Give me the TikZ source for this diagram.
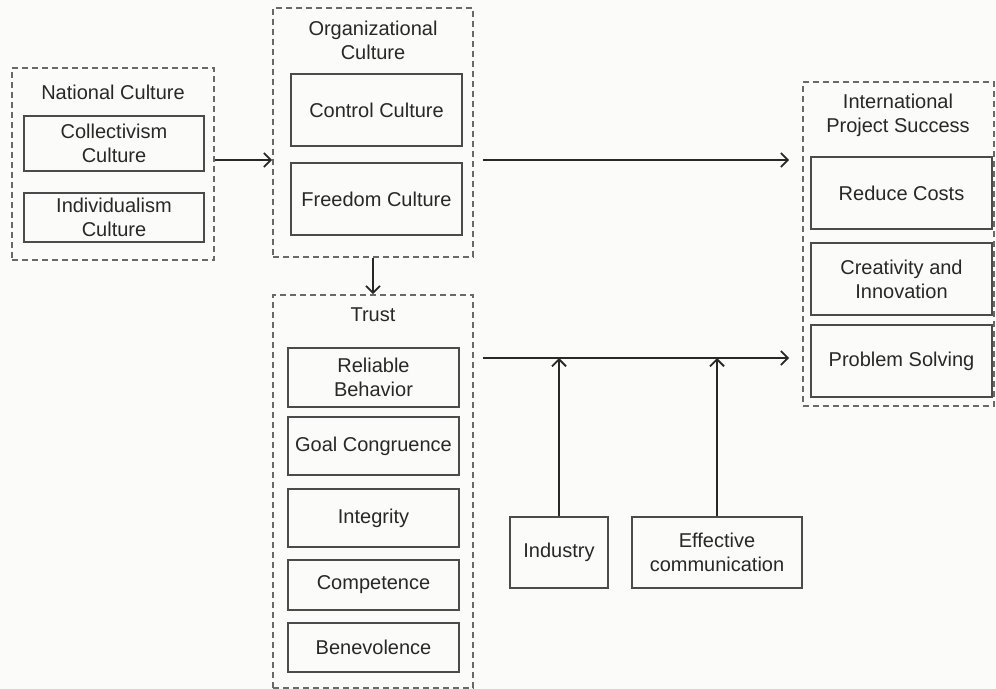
\documentclass[tikz,border=0pt]{standalone}
\usepackage{fontspec}
\setmainfont{Liberation Sans}
\usetikzlibrary{arrows.meta}
\definecolor{paper}{RGB}{251,251,249}
\definecolor{inkgray}{RGB}{40,40,40}
\definecolor{linegray}{RGB}{75,75,75}
\definecolor{dashgray}{RGB}{105,105,105}
\tikzset{
  groupbox/.style={draw=dashgray, dash pattern=on 3pt off 2pt, line width=0.8pt, inner sep=0pt},
  itembox/.style={draw=linegray, line width=0.9pt, align=center, inner sep=0pt, text=inkgray},
  grouptitle/.style={align=center, text=inkgray},
  link/.style={draw=inkgray, line width=0.9pt, -{Straight Barb[length=3.5pt,width=7pt]}}
}
\newcommand{\groupnode}[4] {\node at (#1) (#2) [groupbox, minimum width=#3, minimum height=#4] {};}
\newcommand{\itemnode}[5] {\node at (#1) (#2) [itembox, minimum width=#3, minimum height=#4] {#5};}

\begin{document}
\begin{tikzpicture}[x=0.5pt, y=-0.5pt, font=\fontsize{10}{12}\selectfont]

\fill [paper] (0,0) rectangle (996,689);
\useasboundingbox (0,0) rectangle (996,689);

\groupnode {113,164}{national}{101pt}{96pt};
\groupnode {373,132.5}{org}{100pt}{124.5pt};
\groupnode {373,491.5}{trust}{100pt}{196.5pt};
\groupnode {898.5,244}{intl}{95.5pt}{162pt};

\node at (113,92) (nationaltitle) [grouptitle] {National Culture};
\node at (373,40) (orgtitle) [grouptitle] {Organizational\\Culture};
\node at (373,315) (trusttitle) [grouptitle] {Trust};
\node at (898,115) (intltitle) [grouptitle] {International\\Project Success};

\itemnode {114,143.5}{collectivism}{90pt}{27.5pt}{Collectivism\\Culture};
\itemnode {114,217.5}{individualism}{90pt}{24.5pt}{Individualism\\Culture};

\itemnode {376.5,110}{control}{85.5pt}{36pt}{Control Culture};
\itemnode {376.5,199}{freedom}{85.5pt}{36pt}{Freedom Culture};

\itemnode {373.5,377.5}{reliable}{85.5pt}{29.5pt}{Reliable\\Behavior};
\itemnode {373.5,446}{goal}{85.5pt}{29pt}{Goal Congruence};
\itemnode {373.5,518}{integrity}{85.5pt}{29pt}{Integrity};
\itemnode {373.5,585}{competence}{85.5pt}{25pt}{Competence};
\itemnode {373.5,647.5}{benevolence}{85.5pt}{24.5pt}{Benevolence};

\itemnode {901.5,193}{costs}{90.5pt}{36pt}{Reduce Costs};
\itemnode {901.5,279}{creativity}{90.5pt}{36pt}{Creativity and\\Innovation};
\itemnode {901.5,361}{problem}{90.5pt}{36pt}{Problem Solving};

\itemnode {559,552.5}{industry}{49pt}{35.5pt}{Industry};
\itemnode {717,552.5}{communication}{85pt}{35.5pt}{Effective\\communication};

\coordinate (upper) at (0,160);
\coordinate (lower) at (0,358);

\draw [link] (national.east |- upper) -- (org.west |- upper);
\draw [link, shorten <=4.5pt, shorten >=6.5pt] (org.east |- upper) -- (intl.west |- upper);
\draw [link] (org.south) -- (trust.north);
\draw [link, shorten <=4.5pt, shorten >=6.5pt] (trust.east |- lower) -- (intl.west |- lower);
\draw [link] (industry.north) -- (industry.north |- lower);
\draw [link] (communication.north) -- (communication.north |- lower);

\end{tikzpicture}
\end{document}
